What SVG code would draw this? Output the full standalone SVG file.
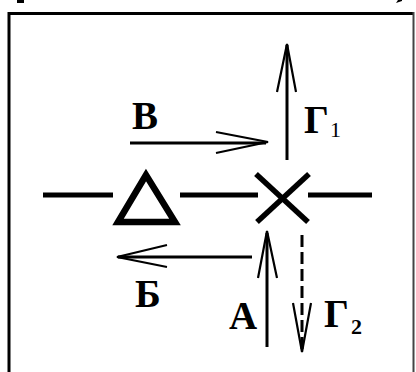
<svg xmlns="http://www.w3.org/2000/svg" width="416" height="372" viewBox="0 0 416 372">
<style>
.lbl{font-family:"Liberation Serif","Times New Roman",serif;font-weight:bold;font-size:39px;fill:#000}
.sub{font-family:"Liberation Serif","Times New Roman",serif;font-size:22px;fill:#000}
.ln{stroke:#000;stroke-width:5;fill:none}
.shaft{stroke:#000;stroke-width:3;fill:none}
.barb{stroke:#000;stroke-width:2.2;fill:none}
</style>
<rect width="416" height="372" fill="#fff"/>
<g id="frame">
<path d="M9,372 V13.5 H413" stroke="#000" stroke-width="3" fill="none"/>
<path d="M413.5,12 V372" stroke="#444" stroke-width="2" fill="none"/>
<rect x="17" y="0" width="7" height="3" fill="#000"/>
<path d="M396,3 L402,1 L402,0 L398,0 Z" fill="#000"/>
</g>
<g id="line">
<line class="ln" x1="43" y1="195" x2="113" y2="195"/>
<line class="ln" x1="180" y1="195" x2="258" y2="195"/>
<line class="ln" x1="308" y1="195" x2="372" y2="195"/>
</g>
<g id="triangle">
<polygon points="146,175 118,222 175,222" stroke="#000" stroke-width="6.5" fill="none" stroke-linejoin="miter"/>
</g>
<g id="cross">
<line x1="256" y1="174" x2="308" y2="222" stroke="#000" stroke-width="5.5"/>
<line x1="309" y1="174" x2="257" y2="222" stroke="#000" stroke-width="5.5"/>
</g>
<g id="connectors">
<g id="arrow-V">
<line class="shaft" x1="130" y1="143" x2="266" y2="143"/>
<polyline class="barb" points="216,132 268,142 216,153"/>
</g>
<g id="arrow-G1">
<line class="shaft" x1="287" y1="160" x2="287" y2="45"/>
<polyline class="barb" points="277,92 287,44 296,92"/>
</g>
<g id="arrow-B">
<line class="shaft" x1="252" y1="257" x2="118" y2="257"/>
<polyline class="barb" points="167,245 117,257 167,267"/>
</g>
<g id="arrow-A">
<line class="shaft" x1="267" y1="347" x2="267" y2="233"/>
<polyline class="barb" points="258,278 267,231 277,278"/>
</g>
<g id="arrow-G2">
<line class="shaft" x1="302" y1="235" x2="302" y2="350" stroke-dasharray="12,5"/>
<polyline class="barb" points="293,303 302,352 311,303"/>
</g>
</g>
<g id="labels">
<text class="lbl" x="304" y="133">Г</text><text class="sub" x="330" y="137">1</text>
<text class="lbl" x="132" y="129">В</text>
<text class="lbl" x="135" y="307">Б</text>
<text class="lbl" x="229" y="329">А</text>
<text class="lbl" x="324" y="327">Г</text><text class="sub" x="351" y="334" style="font-weight:bold">2</text>
</g>
</svg>
